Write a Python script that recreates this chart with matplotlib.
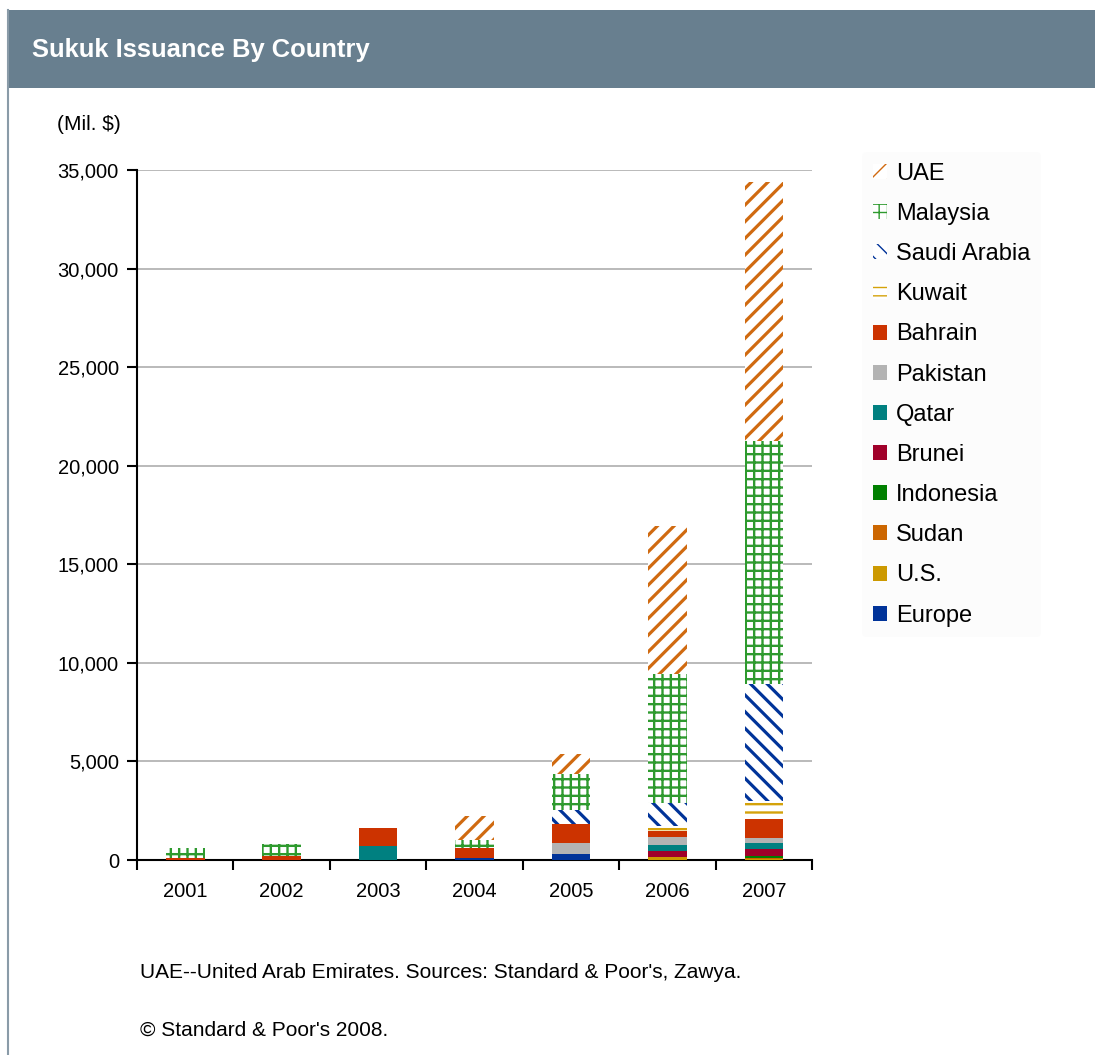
import matplotlib.pyplot as plt
import numpy as np
from matplotlib.patches import Rectangle
from matplotlib.lines import Line2D

plt.rcParams['font.family'] = ['Liberation Sans', 'DejaVu Sans']

# Sukuk issuance by country, million US$
years = ['2001', '2002', '2003', '2004', '2005', '2006', '2007']
europe = [0, 0, 0, 100, 300, 0, 0]
us = [0, 0, 0, 0, 0, 170, 60]
sudan = [0, 0, 0, 0, 0, 0, 60]
indonesia = [0, 0, 0, 0, 0, 0, 100]
brunei = [0, 0, 0, 0, 0, 300, 320]
qatar = [0, 0, 730, 0, 0, 290, 300]
pakistan = [0, 0, 0, 0, 575, 420, 300]
bahrain = [120, 220, 910, 500, 950, 300, 960]
kuwait = [0, 0, 0, 0, 0, 250, 900]
saudi = [0, 0, 0, 0, 710, 1160, 5950]
malaysia = [470, 590, 0, 400, 1825, 6535, 12295]
uae = [0, 0, 0, 1250, 1015, 7525, 13140]

# stacking order, bottom to top: (label, values, colour, hatch)
series = [
    ('Europe', europe, '#003399', None),
    ('U.S.', us, '#CC9900', None),
    ('Sudan', sudan, '#CC6600', None),
    ('Indonesia', indonesia, '#008000', None),
    ('Brunei', brunei, '#A0002A', None),
    ('Qatar', qatar, '#008080', None),
    ('Pakistan', pakistan, '#B3B3B3', None),
    ('Bahrain', bahrain, '#CC3300', None),
    ('Kuwait', kuwait, '#D4A20A', '--'),
    ('Saudi Arabia', saudi, '#003399', '\\\\'),
    ('Malaysia', malaysia, '#2E9A2E', '++'),
    ('UAE', uae, '#D06A10', '//'),
]

fig = plt.figure(figsize=(10.95, 10.55), dpi=100)
fig.patch.set_facecolor('white')

# header band
fig.patches.append(Rectangle((8 / 1095, 1 - 88 / 1055), 1.0, 78 / 1055,
                             transform=fig.transFigure, facecolor='#687F8F',
                             edgecolor='none', zorder=0))
fig.lines.append(Line2D([8 / 1095, 8 / 1095], [0, 1 - 10 / 1055],
                        transform=fig.transFigure, color='#8A9BA8', lw=1.5))
fig.text(32 / 1095, 1 - 50 / 1055, 'Sukuk Issuance By Country', color='white',
         fontsize=18.4, fontweight='bold', va='center', ha='left')

ax = fig.add_axes([137 / 1095, 1 - 860 / 1055, 675 / 1095, 690 / 1055])

x = np.arange(len(years))
bottom = np.zeros(len(years))
handles = []
for label, vals, color, hatch in series:
    vals = np.array(vals, dtype=float)
    if hatch:
        bars = ax.bar(x, vals, 0.4, bottom=bottom, facecolor='white',
                      edgecolor=color, hatch=hatch, linewidth=0, label=label,
                      zorder=3)
        lw = 1.7 if hatch in ('++', '--') else 2.3
        for b in bars:
            if hasattr(b, 'set_hatch_linewidth'):
                b.set_hatch_linewidth(lw)
    else:
        bars = ax.bar(x, vals, 0.4, bottom=bottom, color=color, linewidth=0,
                      label=label, zorder=3)
    handles.append(bars)
    bottom += vals

ax.set_xlim(-0.5, len(years) - 0.5)
ax.set_ylim(0, 35000)
ax.set_yticks(np.arange(0, 35001, 5000))
ax.set_yticklabels([f'{v:,}' for v in range(0, 35001, 5000)])
ax.yaxis.grid(True, color='#B4B4B4', linewidth=1.3, zorder=0)
ax.set_axisbelow(True)

ax.set_xticks(x)
ax.set_xticklabels(years)
ax.set_xticks(np.arange(-0.5, len(years), 1), minor=True)
ax.tick_params(axis='x', which='major', length=0, pad=16, labelsize=14.5)
ax.tick_params(axis='x', which='minor', length=7, width=1.5, direction='out')
ax.tick_params(axis='y', length=7, width=1.5, pad=6, labelsize=14.5)

for side in ('top', 'right'):
    ax.spines[side].set_visible(False)
for side in ('left', 'bottom'):
    ax.spines[side].set_linewidth(1.5)

fig.text(57 / 1095, 1 - 125 / 1055, '(Mil. $)', fontsize=15, va='center')

leg = ax.legend(handles[::-1], [s[0] for s in series][::-1],
                loc='upper left', bbox_to_anchor=(862 / 1095, 1 - 152 / 1055),
                bbox_transform=fig.transFigure, frameon=True, fontsize=17,
                handlelength=0.6, handleheight=0.6, handletextpad=0.4,
                labelspacing=0.77, borderpad=0.45, borderaxespad=0)
leg.get_frame().set_facecolor('#FCFCFC')
leg.get_frame().set_edgecolor('none')

fig.text(140 / 1095, 1 - 972 / 1055,
         "UAE--United Arab Emirates. Sources: Standard & Poor's, Zawya.",
         fontsize=15, va='center')
fig.text(140 / 1095, 1 - 1030 / 1055, "\u00a9 Standard & Poor's 2008.",
         fontsize=15, va='center')

fig.savefig('out.png', dpi=100)
